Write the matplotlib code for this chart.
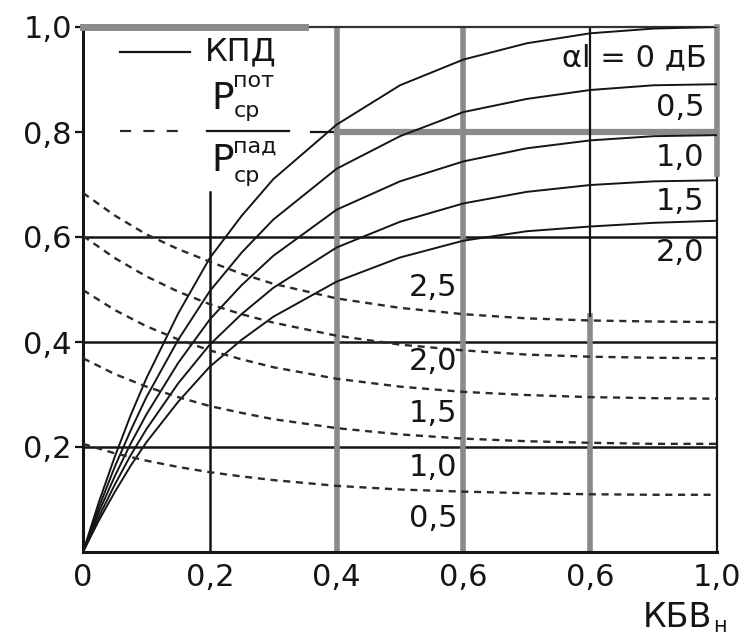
import matplotlib
matplotlib.use('Agg')
import matplotlib.pyplot as plt

plt.rcParams['font.family'] = ['DejaVu Sans']

# ---- data ----
kbv = [0, 0.025, 0.05, 0.075, 0.1, 0.15, 0.2, 0.25, 0.3, 0.4, 0.5, 0.6, 0.7, 0.8, 0.9, 1.0]
eff_0 = [0, 0.095, 0.181, 0.260, 0.331, 0.454, 0.560, 0.640, 0.710, 0.814, 0.889, 0.938, 0.969, 0.988, 0.997, 1.000]
eff_05 = [0, 0.085, 0.162, 0.231, 0.295, 0.404, 0.497, 0.570, 0.633, 0.730, 0.792, 0.838, 0.863, 0.880, 0.889, 0.891]
eff_10 = [0, 0.076, 0.144, 0.206, 0.262, 0.360, 0.443, 0.508, 0.564, 0.652, 0.706, 0.744, 0.769, 0.784, 0.792, 0.794]
eff_15 = [0, 0.067, 0.128, 0.184, 0.234, 0.321, 0.395, 0.453, 0.503, 0.580, 0.629, 0.664, 0.686, 0.699, 0.706, 0.708]
eff_20 = [0, 0.060, 0.114, 0.164, 0.209, 0.286, 0.353, 0.404, 0.448, 0.515, 0.561, 0.593, 0.611, 0.620, 0.627, 0.631]
eff_series = [eff_0, eff_05, eff_10, eff_15, eff_20]
eff_labels = ["αl = 0 дБ", "0,5", "1,0", "1,5", "2,0"]

kbv_p = [0, 0.05, 0.1, 0.15, 0.2, 0.25, 0.3, 0.4, 0.5, 0.6, 0.7, 0.8, 0.9, 1.0]
loss_25 = [0.684, 0.641, 0.605, 0.577, 0.553, 0.530, 0.511, 0.483, 0.465, 0.453, 0.445, 0.441, 0.439, 0.438]
loss_20 = [0.602, 0.560, 0.525, 0.496, 0.472, 0.453, 0.437, 0.412, 0.395, 0.384, 0.376, 0.372, 0.370, 0.369]
loss_15 = [0.499, 0.461, 0.430, 0.405, 0.384, 0.367, 0.352, 0.330, 0.315, 0.305, 0.299, 0.295, 0.293, 0.292]
loss_10 = [0.369, 0.339, 0.315, 0.295, 0.278, 0.265, 0.253, 0.236, 0.224, 0.216, 0.211, 0.208, 0.206, 0.206]
loss_05 = [0.206, 0.188, 0.174, 0.162, 0.152, 0.144, 0.137, 0.126, 0.119, 0.115, 0.112, 0.110, 0.109, 0.109]
loss_series = [loss_25, loss_20, loss_15, loss_10, loss_05]
loss_labels = ["2,5", "2,0", "1,5", "1,0", "0,5"]

x_ticks = [0, 0.2, 0.4, 0.6, 0.8, 1.0]
x_tick_labels = ["0", "0,2", "0,4", "0,6", "0,6", "1,0"]
y_ticks = [0.2, 0.4, 0.6, 0.8, 1.0]
y_tick_labels = ["0,2", "0,4", "0,6", "0,8", "1,0"]

# ---- figure ----
fig = plt.figure(figsize=(7.44, 6.40), dpi=100)
ax = fig.add_axes([83/744, 88/640, 634/744, 525/640])
ax.set_xlim(0, 1)
ax.set_ylim(0, 1)

BLK = '#151515'
GRY = '#8a8a8a'

# grid (drawn by hand, as in the scanned original)
for yv in (0.2, 0.4, 0.6):
    ax.axhline(yv, color=BLK, lw=1.8, zorder=1)
ax.axhline(0.8, xmin=0.36, xmax=0.4, color=BLK, lw=1.6, zorder=1)
ax.axhline(0.8, xmin=0.4, xmax=1.0, color=GRY, lw=4.5, zorder=1)
ax.axvline(0.2, ymax=0.686, color=BLK, lw=1.8, zorder=1)
ax.axvline(0.4, color=GRY, lw=4, zorder=1)
ax.axvline(0.6, color=GRY, lw=4, zorder=1)
ax.axvline(0.8, ymin=0.0, ymax=0.45, color=GRY, lw=4, zorder=1)
ax.axvline(0.8, ymin=0.45, ymax=1.0, color=BLK, lw=1.6, zorder=1)
ax.axhline(1.0, xmin=0.0, xmax=0.35, color=GRY, lw=5, zorder=3, clip_on=False)
ax.axvline(1.0, ymin=0.72, ymax=1.0, color=GRY, lw=4, zorder=3, clip_on=False)

for s in ('left', 'bottom'):
    ax.spines[s].set_linewidth(2.2)
    ax.spines[s].set_color(BLK)
ax.spines['top'].set_linewidth(1.6)
ax.spines['top'].set_color('#333333')
ax.spines['right'].set_linewidth(1.6)
ax.spines['right'].set_color(BLK)

# curves
for ser in eff_series:
    ax.plot(kbv, ser, color=BLK, lw=1.4, zorder=4)
for ser in loss_series:
    ax.plot(kbv_p, ser, color='#2a2a2a', lw=1.7, ls=(0, (3, 2.4)), zorder=4)

# ticks
ax.set_xticks(x_ticks)
ax.set_xticklabels(x_tick_labels, fontsize=22)
ax.set_yticks(y_ticks)
ax.set_yticklabels(y_tick_labels, fontsize=22)
ax.tick_params(axis='x', length=0, pad=8, colors=BLK)
ax.tick_params(axis='y', length=6, width=1.6, pad=2, direction='out', colors=BLK)

# curve labels (right column)
eff_label_pos = [(0.984, 0.941), (0.98, 0.846), (0.98, 0.752), (0.98, 0.667), (0.98, 0.571)]
for lab, (xx, yy) in zip(eff_labels, eff_label_pos):
    ax.text(xx, yy, lab, ha='right', va='center', fontsize=22, color=BLK, zorder=5)

loss_label_pos = [(0.59, 0.503), (0.59, 0.362), (0.59, 0.263), (0.59, 0.160), (0.59, 0.063)]
for lab, (xx, yy) in zip(loss_labels, loss_label_pos):
    ax.text(xx, yy, lab, ha='right', va='center', fontsize=22, color=BLK, zorder=5)

# legend
ax.plot([0.058, 0.169], [0.952, 0.952], color=BLK, lw=1.6, transform=ax.transAxes, clip_on=False)
ax.text(0.193, 0.952, "КПД", ha='left', va='center', fontsize=23, color=BLK)
ax.plot([0.058, 0.169], [0.802, 0.802], color='#2a2a2a', lw=1.6, ls=(0, (5, 5.5)),
        transform=ax.transAxes)
ax.plot([0.196, 0.325], [0.802, 0.802], color=BLK, lw=1.6, transform=ax.transAxes)
ax.text(0.203, 0.862, "P", ha='left', va='center', fontsize=27, color=BLK)
ax.text(0.237, 0.897, "пот", ha='left', va='center', fontsize=16, color=BLK)
ax.text(0.237, 0.840, "ср", ha='left', va='center', fontsize=16, color=BLK)
ax.text(0.203, 0.744, "P", ha='left', va='center', fontsize=27, color=BLK)
ax.text(0.237, 0.772, "пад", ha='left', va='center', fontsize=16, color=BLK)
ax.text(0.237, 0.716, "ср", ha='left', va='center', fontsize=16, color=BLK)

# axis label
ax.text(0.992, -0.124, "КБВ", ha='right', va='center', fontsize=24, color=BLK)
ax.text(0.994, -0.140, "н", ha='left', va='center', fontsize=15, color=BLK, clip_on=False)

fig.savefig('out.png', dpi=100)
